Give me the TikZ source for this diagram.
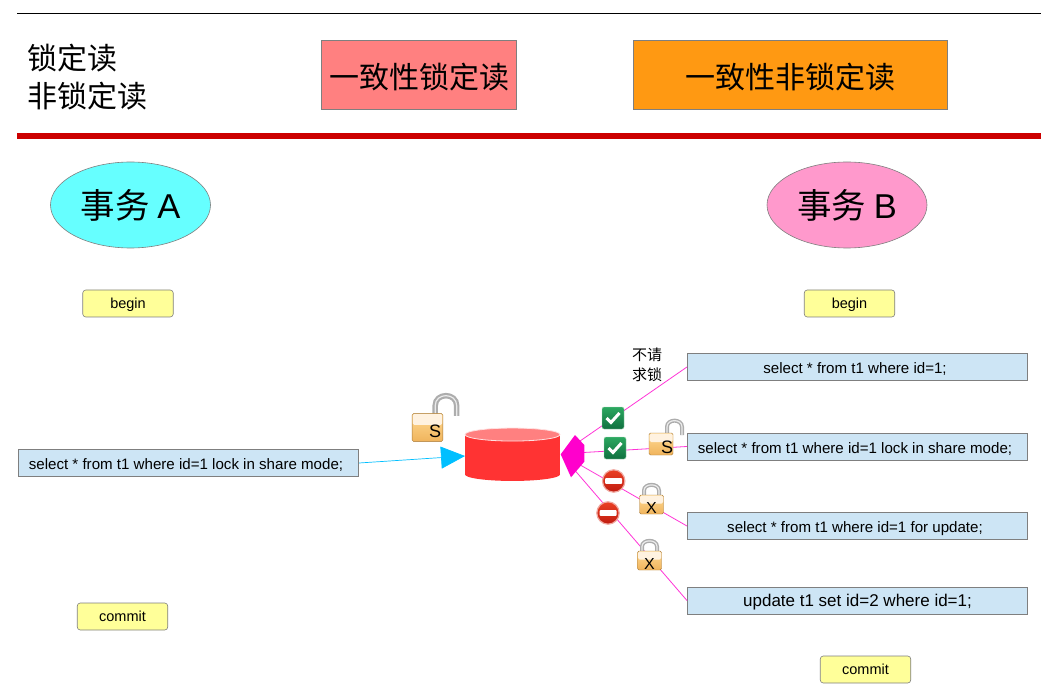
\documentclass[tikz,border=0pt]{standalone}
\usepackage{fontspec}
\setmainfont{Liberation Sans}
\newfontfamily\cjk{Noto Sans CJK SC}
\usetikzlibrary{arrows.meta,shapes.geometric}
\definecolor{boxgray}{HTML}{7F7F7F}
\definecolor{pinkred}{HTML}{FF8080}
\definecolor{orangefill}{HTML}{FF9912}
\definecolor{cyanfill}{HTML}{66FFFF}
\definecolor{pinkfill}{HTML}{FF99CC}
\definecolor{yellowfill}{HTML}{FFFF99}
\definecolor{bluefill}{HTML}{CDE5F5}
\definecolor{dbred}{HTML}{FF3333}
\definecolor{dbtop}{HTML}{FF8080}
\definecolor{hubpink}{HTML}{FF00CC}
\definecolor{tipcyan}{HTML}{00BFFF}
\definecolor{lockedge}{HTML}{A87A3A}
\definecolor{lockgold}{HTML}{FFDA94}
\definecolor{lockdeep}{HTML}{F0B45C}
\definecolor{lockcream}{HTML}{FFF2E0}
\definecolor{okedge}{HTML}{A8D8B8}
\definecolor{oktop}{HTML}{2CA860}
\definecolor{okbottom}{HTML}{107040}
\definecolor{stopedge}{HTML}{F0A8A0}
\definecolor{stoptop}{HTML}{EA4024}
\definecolor{stopbottom}{HTML}{C01C10}
\tikzset{
    mode/.style={draw=boxgray, line width=0.6pt, inner sep=0pt, minimum height=69.5pt, text height=30pt, text depth=3.2pt, font=\fontsize{30}{36}\selectfont\cjk},
    txn/.style={ellipse, draw=boxgray, line width=0.6pt, inner sep=0pt, minimum width=160pt, minimum height=86pt, font=\fontsize{34.5}{40}\selectfont\cjk},
    marker/.style={draw=boxgray, line width=0.6pt, rounded corners=3pt, fill=yellowfill, inner sep=0pt, minimum width=90.5pt, minimum height=27pt, text height=11.5pt, text depth=1.5pt, font=\fontsize{14.5}{16}\selectfont},
    stmt/.style={draw=boxgray, line width=0.6pt, fill=bluefill, inner sep=0pt, minimum width=340.5pt, minimum height=27pt, text height=14.5pt, text depth=0.8pt, font=\fontsize{15.1}{16}\selectfont, execute at end node=\hspace{5pt}},
    link/.style={draw=hubpink!80!white, line width=0.8pt},
    lockbody/.style={draw=lockedge, rounded corners=1.5pt, top color=lockgold, bottom color=lockdeep},
    pics/lockshut/.style={code={
        \draw[line width=4pt, draw=black!32] (-7.5,-9) -- (-7.5,-14) .. controls (-7.5,-21.5) and (7.5,-21.5) .. (7.5,-14) -- (7.5,-9);
        \draw[line width=1.2pt, draw=black!8] (-7.5,-9) -- (-7.5,-14) .. controls (-7.5,-21.5) and (7.5,-21.5) .. (7.5,-14) -- (7.5,-9);
        \draw[lockbody] (-12,-9.5) rectangle (12,9.5);
        \fill[lockcream, rounded corners=1.5pt] (-11.5,-9) rectangle (11.5,-1);
        \node[font=\fontsize{16}{16}\selectfont, inner sep=0pt] at (0,3) {#1};
    }},
    pics/lockopen/.style n args={4}{code={
        \draw[line width=#2, draw=black!32] (6,-9) -- (6,-17) .. controls (6,#4) and (#3,#4) .. (#3,-17) -- (#3,-9);
        \draw[line width=1.2pt, draw=black!8] (6,-9) -- (6,-17) .. controls (6,#4) and (#3,#4) .. (#3,-17) -- (#3,-9);
        \draw[lockbody] (-12,-11) rectangle (12,11);
        \fill[lockcream, rounded corners=1.5pt] (-11.5,-10.5) rectangle (11.5,-2);
        \node[font=\fontsize{18}{18}\selectfont, inner sep=0pt] at (6,3) {#1};
    }},
    pics/okbadge/.style={code={
        \draw[draw=okedge, rounded corners=2pt, top color=oktop, bottom color=okbottom] (-11,-11) rectangle (11,11);
        \draw[white, line width=3pt] (-6.5,0) -- (-2,4.5) -- (6.5,-5);
    }},
    pics/stopbadge/.style={code={
        \draw[draw=stopedge, line width=1.2pt, top color=stoptop, bottom color=stopbottom] (0,0) circle (11.2);
        \fill[white, rounded corners=0.8pt] (-8.5,-2.8) rectangle (8.5,2.8);
    }},
}
\begin{document}
\begin{tikzpicture}[x=1pt, y=-1pt]
    \useasboundingbox (0,0) rectangle (1041,692);

    % Cabecalho
    \coordinate (ruleTopL) at (17,13);
    \coordinate (ruleTopR) at (1041,13);
    \coordinate (ruleRedL) at (17,136);
    \coordinate (ruleRedR) at (1041,136);
    \draw[line width=0.7pt] (ruleTopL) -- (ruleTopR);
    \draw[line width=5.5pt, draw=red!80!black] (ruleRedL) -- (ruleRedR);
    \node[anchor=west, align=left, inner sep=0pt, font=\fontsize{30}{38}\selectfont\cjk] (kinds) at (27,77) {锁定读\\非锁定读};
    \node[mode, fill=pinkred, minimum width=195.5pt] (lockread) at (419,75) {一致性锁定读};
    \node[mode, fill=orangefill, minimum width=314.5pt] (plainread) at (790.5,75) {一致性非锁定读};

    % Transacoes
    \node[txn, fill=cyanfill] (txnA) at (130.5,205) {事务 {\rmfamily A}};
    \node[txn, fill=pinkfill] (txnB) at (847,205) {事务 {\rmfamily B}};
    \node[marker] (beginA) at (128,303.5) {begin};
    \node[marker] (beginB) at (849.5,303.5) {begin};
    \node[marker] (commitA) at (122.5,616.5) {commit};
    \node[marker] (commitB) at (865.5,669.5) {commit};

    % Comandos
    \node[stmt] (stmtA) at (188.5,463) {select * from t1 where id=1 lock in share mode;};
    \node[stmt] (stmtOne) at (857.5,367) {select * from t1 where id=1;};
    \node[stmt] (stmtTwo) at (857.5,446.5) {select * from t1 where id=1 lock in share mode;};
    \node[stmt] (stmtThree) at (857.5,526) {select * from t1 where id=1 for update;};
    \node[stmt, font=\fontsize{17}{18}\selectfont, text height=12pt, execute at end node={}, execute at begin node=\hspace{5pt}] (stmtFour) at (857.5,600.5) {update t1 set id=2 where id=1;};
    \node[align=left, inner sep=0pt, font=\fontsize{15}{20}\selectfont\cjk] (nolock) at (647,364.5) {不请\\求锁};

    % Banco
    \node[fill=dbred, inner sep=0pt, minimum width=95pt, minimum height=39.5pt] (db) at (512.5,454.5) {};
    \fill[dbred] (db.south) ellipse [x radius=47.5, y radius=6.5];
    \draw[draw=white!85!dbred, line width=0.8pt, fill=dbtop] (db.north) ellipse [x radius=47.5, y radius=6.5];

    % Ligacoes
    \coordinate (hubOne) at (575,444.5);
    \coordinate (hubTwo) at (575,453);
    \coordinate (hubThree) at (575,462);
    \coordinate (hubFour) at (572,467);
    \coordinate (dbTip) at (465,456);
    \draw[link] (stmtOne.west) -- (hubOne);
    \draw[link] (stmtTwo.west) -- (hubTwo);
    \draw[link] (stmtThree.west) -- (hubThree);
    \draw[link] (stmtFour.west) -- (hubFour);
    \draw[draw=tipcyan, line width=0.7pt, -{Triangle[length=24pt, width=22pt]}] (stmtA.east) -- (dbTip);
    \fill[hubpink] (560.7,454.3) -- (575,435) -- (584.3,445) -- (584.3,461.7) -- (571,477.3) -- cycle;

    % Icones
    \pic[scale=1.28] (lockA) at (427.5,427.5) {lockopen={S}{5.5pt}{22.8}{-27.5}};
    \pic (okOne) at (613,418) {okbadge};
    \pic (okTwo) at (615,448) {okbadge};
    \pic (stopOne) at (613.7,481) {stopbadge};
    \pic (stopTwo) at (608,513) {stopbadge};
    \pic (lockS) at (661,444) {lockopen={S}{4pt}{21}{-25.5}};
    \pic (lockX) at (651.5,504.5) {lockshut=X};
    \pic (lockXX) at (649.5,560.5) {lockshut=X};
\end{tikzpicture}
\end{document}
